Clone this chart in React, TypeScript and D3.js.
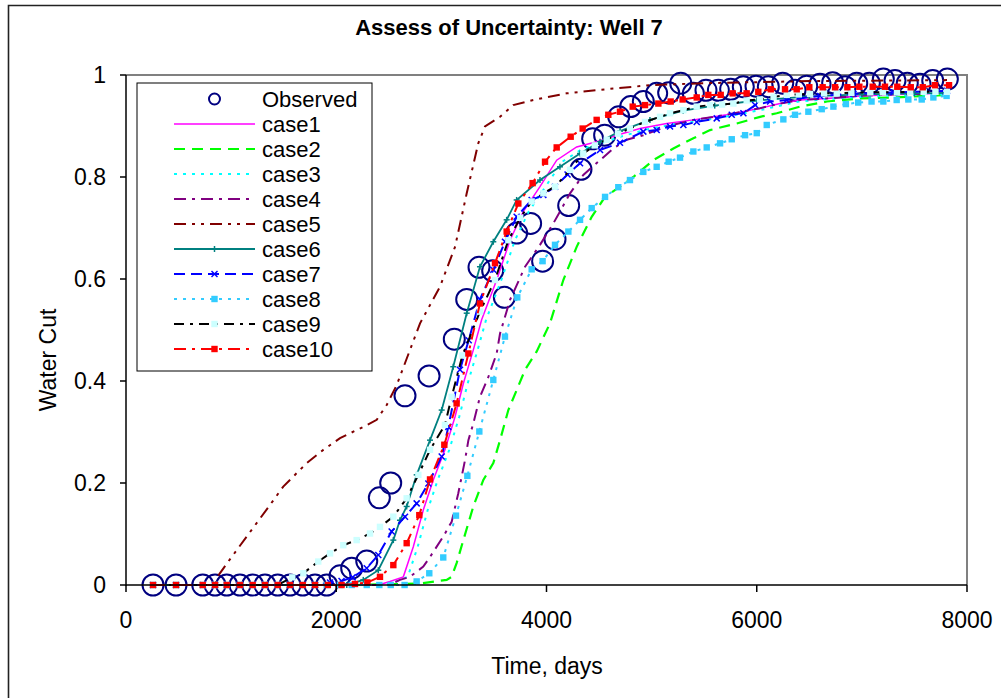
import React from 'react';
import * as d3 from 'd3';

const FONT = '"Liberation Sans", Arial, sans-serif';

const xTicks = [0, 2000, 4000, 6000, 8000];
const yTicks = [0, 0.2, 0.4, 0.6, 0.8, 1];
const yTickLabels = ['0', '0.2', '0.4', '0.6', '0.8', '1'];

const obsTime = [257, 476, 730, 847, 958, 1084, 1205, 1322, 1443, 1560, 1681, 1798, 1909, 2036, 2147, 2290, 2410, 2518, 2654, 2883, 3123, 3241, 3358, 3488, 3599, 3716, 3849, 3963, 4081, 4211, 4328, 4439, 4553, 4687, 4801, 4921, 5048, 5162, 5277, 5397, 5517, 5635, 5752, 5872, 5993, 6110, 6247, 6364, 6475, 6602, 6722, 6840, 6951, 7071, 7204, 7315, 7432, 7553, 7674, 7813];
const obsCut = [0, 0, 0, 0, 0, 0, 0, 0, 0, 0, 0, 0, 0, 0.018, 0.033, 0.047, 0.171, 0.2, 0.371, 0.41, 0.482, 0.56, 0.623, 0.616, 0.564, 0.69, 0.709, 0.635, 0.678, 0.744, 0.815, 0.875, 0.882, 0.918, 0.938, 0.948, 0.964, 0.965, 0.984, 0.964, 0.97, 0.97, 0.972, 0.977, 0.978, 0.977, 0.984, 0.97, 0.978, 0.982, 0.985, 0.977, 0.984, 0.984, 0.992, 0.989, 0.984, 0.982, 0.989, 0.992];

type P = [number, number];

const case1: P[] = [[257, 0], [2400, 0], [2511, 0.007], [2638, 0.016], [2733, 0.075], [2828, 0.147], [2923, 0.206], [3034, 0.265], [3130, 0.33], [3209, 0.395], [3304, 0.461], [3383, 0.52], [3526, 0.598], [3653, 0.676], [3779, 0.732], [3938, 0.781], [4097, 0.833], [4287, 0.859], [4477, 0.869], [4668, 0.882], [4889, 0.895], [5143, 0.905], [5397, 0.912], [5714, 0.922], [6032, 0.935], [6222, 0.944], [6413, 0.951], [6667, 0.954], [6984, 0.959], [7302, 0.962], [7810, 0.964]];
const case2: P[] = [[257, 0], [2200, 0], [2800, 0.003], [3050, 0.01], [3098, 0.016], [3145, 0.043], [3209, 0.088], [3304, 0.154], [3399, 0.206], [3494, 0.239], [3558, 0.284], [3637, 0.343], [3716, 0.382], [3796, 0.422], [3907, 0.458], [4033, 0.513], [4160, 0.598], [4287, 0.663], [4430, 0.722], [4557, 0.761], [4699, 0.781], [4826, 0.8], [5016, 0.833], [5207, 0.856], [5397, 0.876], [5556, 0.892], [5810, 0.905], [6032, 0.918], [6190, 0.925], [6413, 0.938], [6667, 0.948], [6984, 0.954], [7302, 0.956], [7810, 0.961]];
const case3: P[] = [[257, 0], [2450, 0], [2550, 0.005], [2680, 0.016], [2775, 0.075], [2870, 0.147], [2965, 0.206], [3075, 0.265], [3170, 0.33], [3250, 0.395], [3345, 0.461], [3425, 0.52], [3570, 0.598], [3700, 0.676], [3830, 0.732], [3990, 0.781], [4150, 0.83], [4340, 0.855], [4530, 0.867], [4720, 0.88], [4950, 0.893], [5200, 0.903], [5450, 0.91], [5750, 0.92], [6050, 0.932], [6400, 0.948], [6800, 0.955], [7300, 0.96], [7810, 0.962]];
const case4: P[] = [[257, 0], [2500, 0], [2606, 0.01], [2700, 0.016], [2828, 0.036], [2892, 0.055], [3018, 0.095], [3098, 0.124], [3161, 0.18], [3225, 0.245], [3257, 0.284], [3304, 0.317], [3367, 0.369], [3447, 0.408], [3526, 0.454], [3558, 0.493], [3653, 0.559], [3796, 0.624], [3938, 0.667], [4065, 0.709], [4224, 0.768], [4350, 0.804], [4509, 0.833], [4636, 0.856], [4763, 0.873], [4921, 0.882], [5143, 0.899], [5397, 0.912], [5714, 0.922], [6032, 0.935], [6222, 0.944], [6413, 0.951], [6667, 0.954], [6984, 0.959], [7302, 0.962], [7810, 0.964]];
const case5: P[] = [[257, 0], [847, 0], [869, 0.016], [973, 0.046], [1370, 0.157], [1496, 0.193], [1719, 0.239], [1877, 0.265], [2036, 0.288], [2257, 0.31], [2385, 0.324], [2480, 0.353], [2575, 0.392], [2797, 0.513], [2987, 0.585], [3130, 0.663], [3241, 0.768], [3351, 0.866], [3415, 0.899], [3558, 0.918], [3684, 0.941], [3874, 0.951], [4192, 0.964], [4509, 0.971], [4985, 0.98], [5500, 0.984], [6500, 0.988], [7810, 0.99]];
const case6: P[] = [[257, 0], [476, 0], [730, 0], [958, 0], [1205, 0], [1443, 0], [1681, 0], [1909, 0], [2100, 0], [2257, 0.01], [2400, 0.029], [2543, 0.088], [2606, 0.127], [2670, 0.154], [2765, 0.216], [2892, 0.284], [3003, 0.343], [3113, 0.428], [3241, 0.533], [3367, 0.624], [3494, 0.673], [3621, 0.716], [3716, 0.755], [3938, 0.794], [4128, 0.82], [4319, 0.846], [4509, 0.869], [4700, 0.89], [4984, 0.912], [5300, 0.93], [5600, 0.94], [6000, 0.95], [6500, 0.958], [7000, 0.962], [7500, 0.964], [7810, 0.965]];
const case7: P[] = [[257, 0], [476, 0], [730, 0], [847, 0], [958, 0], [1084, 0], [1205, 0], [1322, 0], [1443, 0], [1560, 0], [1681, 0], [1798, 0], [1941, 0.005], [2050, 0.008], [2156, 0.015], [2290, 0.033], [2400, 0.059], [2527, 0.105], [2654, 0.134], [2765, 0.16], [2876, 0.199], [3003, 0.252], [3066, 0.31], [3177, 0.422], [3260, 0.48], [3367, 0.56], [3494, 0.618], [3605, 0.673], [3716, 0.722], [3859, 0.755], [3970, 0.765], [4081, 0.781], [4200, 0.805], [4319, 0.827], [4509, 0.853], [4699, 0.867], [4921, 0.889], [5048, 0.892], [5175, 0.899], [5302, 0.902], [5429, 0.908], [5619, 0.915], [5762, 0.922], [5873, 0.925], [5984, 0.941], [6127, 0.948], [6285, 0.951], [6602, 0.959], [6920, 0.963], [7300, 0.966], [7810, 0.969]];
const case8: P[] = [[257, 0], [476, 0], [730, 0], [847, 0], [958, 0], [1084, 0], [1205, 0], [1322, 0], [1443, 0], [1560, 0], [1681, 0], [1798, 0], [1909, 0], [2036, 0], [2147, 0], [2290, 0], [2410, 0], [2518, 0], [2650, 0], [2765, 0.007], [2885, 0.023], [3018, 0.054], [3139, 0.136], [3247, 0.214], [3361, 0.301], [3494, 0.402], [3605, 0.487], [3722, 0.564], [3859, 0.619], [3963, 0.635], [4081, 0.667], [4208, 0.693], [4319, 0.716], [4430, 0.739], [4557, 0.761], [4683, 0.78], [4794, 0.794], [4921, 0.81], [5048, 0.82], [5162, 0.83], [5270, 0.838], [5397, 0.85], [5524, 0.858], [5651, 0.866], [5762, 0.874], [5889, 0.882], [6000, 0.886], [6095, 0.902], [6253, 0.913], [6364, 0.922], [6491, 0.928], [6618, 0.933], [6729, 0.938], [6848, 0.943], [6965, 0.946], [7092, 0.948], [7204, 0.948], [7331, 0.951], [7442, 0.952], [7569, 0.952], [7680, 0.956], [7806, 0.959]];
const case9: P[] = [[257, 0], [476, 0], [730, 0], [847, 0], [958, 0], [1084, 0], [1205, 0], [1322, 0], [1443, 0], [1582, 0.015], [1687, 0.023], [1829, 0.046], [1941, 0.062], [2067, 0.078], [2194, 0.088], [2321, 0.101], [2416, 0.114], [2543, 0.134], [2670, 0.17], [2781, 0.216], [2892, 0.265], [3034, 0.314], [3098, 0.369], [3200, 0.45], [3367, 0.536], [3510, 0.598], [3637, 0.676], [3750, 0.72], [3859, 0.752], [3970, 0.768], [4081, 0.781], [4224, 0.814], [4350, 0.846], [4460, 0.862], [4573, 0.873], [4680, 0.885], [4794, 0.895], [4937, 0.908], [5080, 0.918], [5175, 0.925], [5302, 0.931], [5429, 0.938], [5556, 0.941], [5670, 0.942], [5778, 0.944], [5904, 0.95], [6031, 0.952], [6160, 0.957], [6285, 0.961], [6400, 0.962], [6507, 0.963], [6640, 0.964], [6761, 0.964], [6900, 0.965], [7080, 0.966], [7200, 0.966], [7334, 0.966], [7460, 0.967], [7588, 0.967], [7700, 0.967], [7810, 0.967]];
const case10: P[] = [[257, 0], [476, 0], [730, 0], [847, 0], [958, 0], [1084, 0], [1205, 0], [1322, 0], [1443, 0], [1560, 0], [1681, 0], [1798, 0], [1920, 0], [2050, 0], [2178, 0.002], [2296, 0.005], [2416, 0.016], [2543, 0.039], [2670, 0.082], [2790, 0.137], [2892, 0.207], [3028, 0.275], [3145, 0.356], [3257, 0.454], [3367, 0.552], [3510, 0.631], [3621, 0.693], [3732, 0.748], [3868, 0.788], [3986, 0.83], [4097, 0.858], [4230, 0.879], [4344, 0.895], [4477, 0.912], [4588, 0.922], [4699, 0.928], [4820, 0.938], [4937, 0.941], [5064, 0.944], [5181, 0.948], [5295, 0.952], [5429, 0.956], [5539, 0.961], [5657, 0.961], [5771, 0.964], [5904, 0.964], [6015, 0.967], [6133, 0.972], [6269, 0.972], [6380, 0.972], [6500, 0.976], [6627, 0.976], [6745, 0.976], [6862, 0.976], [6976, 0.977], [7103, 0.977], [7220, 0.977], [7337, 0.977], [7465, 0.976], [7579, 0.976], [7696, 0.98], [7829, 0.98]];

type Marker = null | 'plus' | 'x' | 'square';
interface S { name: string; data: P[]; color: string; width: number; dash: string | null; marker: Marker; mFill?: string; }

const seriesList: S[] = [
  { name: 'case1', data: case1, color: '#FF00FF', width: 1.5, dash: null, marker: null },
  { name: 'case2', data: case2, color: '#00FF00', width: 2.2, dash: '11,7', marker: null },
  { name: 'case3', data: case3, color: '#00FFFF', width: 2, dash: '3,6', marker: null },
  { name: 'case4', data: case4, color: '#800080', width: 2, dash: '12,6,3,6', marker: null },
  { name: 'case5', data: case5, color: '#800000', width: 2, dash: '12,6,3,6,3,6', marker: null },
  { name: 'case6', data: case6, color: '#008080', width: 1.8, dash: null, marker: 'plus' },
  { name: 'case7', data: case7, color: '#0000FF', width: 2, dash: '11,6', marker: 'x' },
  { name: 'case8', data: case8, color: '#33CCFF', width: 2, dash: '3,6', marker: 'square', mFill: '#33CCFF' },
  { name: 'case9', data: case9, color: '#000000', width: 2, dash: '10,6,3,6', marker: 'square', mFill: '#CCFFFF' },
  { name: 'case10', data: case10, color: '#FF0000', width: 2, dash: '12,6,3,6', marker: 'square', mFill: '#FF0000' },
];

function drawMarker(type: Marker, cx: number, cy: number, color: string, fill: string | undefined, key: string) {
  if (type === 'square') {
    return <rect key={key} x={cx - 3.2} y={cy - 3.2} width={6.4} height={6.4} fill={fill} stroke="none" />;
  }
  if (type === 'x') {
    return (
      <g key={key} stroke={color} strokeWidth={1.5}>
        <line x1={cx - 3} y1={cy - 3} x2={cx + 3} y2={cy + 3} />
        <line x1={cx - 3} y1={cy + 3} x2={cx + 3} y2={cy - 3} />
      </g>
    );
  }
  if (type === 'plus') {
    return (
      <g key={key} stroke={color} strokeWidth={1.5}>
        <line x1={cx - 3} y1={cy} x2={cx + 3} y2={cy} />
        <line x1={cx} y1={cy - 3} x2={cx} y2={cy + 3} />
      </g>
    );
  }
  return null;
}

export default function App() {
  const x = d3.scaleLinear().domain([0, 8000]).range([126, 967]);
  const y = d3.scaleLinear().domain([0, 1]).range([585, 75]);
  const line = d3.line<P>().x(d => x(d[0])).y(d => y(d[1]));
  const [x0, x1] = x.range();
  const [y0, y1] = y.range();

  const legendX = 137, legendY = 83, legendW = 235, legendH = 288;
  const rowH = 25;

  return (
    <svg width={1001} height={698} style={{ position: 'fixed', left: 0, top: 0, background: '#fff' }} fontFamily={FONT}>
      <rect x={0} y={0} width={1001} height={698} fill="#fff" />
      <path d="M8.5,698 L8.5,5.5 L1001,5.5" fill="none" stroke="#222" strokeWidth={1.6} />
      <text x={509} y={35} textAnchor="middle" fontSize={22} fontWeight="bold" fill="#000">Assess of Uncertainty: Well 7</text>

      <path d={`M${x0},${y1} L${x1},${y1} L${x1},${y0}`} fill="none" stroke="#808080" strokeWidth={2} />

      <g>
        {obsTime.map((t, i) => (
          <circle key={'o' + i} cx={x(t)} cy={y(obsCut[i])} r={10.5} fill="none" stroke="#000080" strokeWidth={2} />
        ))}
      </g>

      {seriesList.map(s => (
        <g key={s.name}>
          <path d={line(s.data) || ''} fill="none" stroke={s.color} strokeWidth={s.width} strokeDasharray={s.dash || undefined} />
          {s.marker && s.data.map((d, i) => drawMarker(s.marker, x(d[0]), y(d[1]), s.color, s.mFill, s.name + i))}
        </g>
      ))}

      <line x1={x0} y1={y0} x2={x1} y2={y0} stroke="#000" strokeWidth={1.5} />
      <line x1={x0} y1={y0 + 1} x2={x0} y2={y1} stroke="#000" strokeWidth={1.5} />
      {yTicks.map((v, i) => (
        <g key={'yt' + i}>
          <line x1={x0 - 6} x2={x0} y1={y(v)} y2={y(v)} stroke="#000" strokeWidth={1.5} />
          <text x={x0 - 20} y={y(v)} dy="0.35em" textAnchor="end" fontSize={23} fill="#000">{yTickLabels[i]}</text>
        </g>
      ))}
      {xTicks.map((v, i) => (
        <g key={'xt' + i}>
          <line x1={x(v)} x2={x(v)} y1={y0} y2={y0 + 7} stroke="#000" strokeWidth={1.5} />
          <text x={x(v)} y={628} textAnchor="middle" fontSize={23} fill="#000">{String(v)}</text>
        </g>
      ))}

      <text x={547} y={674} textAnchor="middle" fontSize={23} fill="#000">Time, days</text>
      <text transform="translate(56,360) rotate(-90)" textAnchor="middle" fontSize={23} fill="#000">Water Cut</text>

      <rect x={legendX} y={legendY} width={legendW} height={legendH} fill="#fff" stroke="#000" strokeWidth={1} />
      <g>
        <circle cx={214.5} cy={legendY + 16} r={5.5} fill="#fff" stroke="#000080" strokeWidth={2} />
        <text x={262} y={legendY + 16} dy="0.35em" fontSize={22} fill="#000">Observed</text>
        {seriesList.map((s, i) => {
          const ly = legendY + 16 + (i + 1) * rowH;
          return (
            <g key={'lg' + s.name}>
              <line x1={174} x2={255} y1={ly} y2={ly} stroke={s.color} strokeWidth={s.width} strokeDasharray={s.dash || undefined} />
              {s.marker && drawMarker(s.marker, 214.5, ly, s.color, s.mFill, 'lm' + s.name)}
              <text x={262} y={ly} dy="0.35em" fontSize={22} fill="#000">{s.name}</text>
            </g>
          );
        })}
      </g>
    </svg>
  );
}
